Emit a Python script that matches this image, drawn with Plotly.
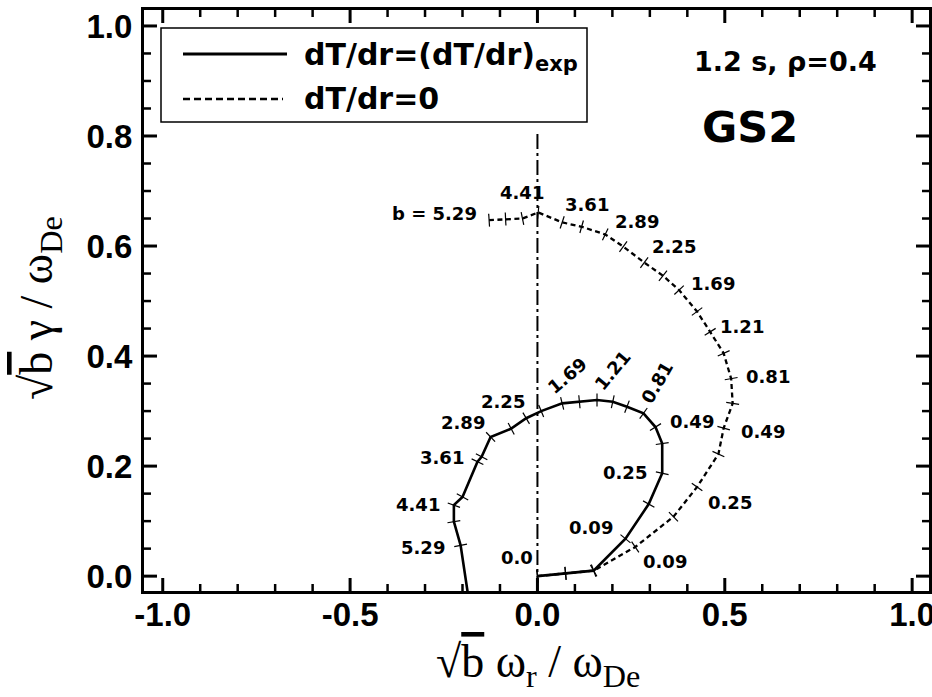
import plotly.graph_objects as go
import math

# Wavenumber parameter b = (k_theta rho_i)^2 along each curve
b_vals = [0.0, 0.01, 0.04, 0.09, 0.16, 0.25, 0.36, 0.49, 0.64, 0.81, 1.0, 1.21,
          1.44, 1.69, 1.96, 2.25, 2.56, 2.89, 3.24, 3.61, 4.0, 4.41, 4.84, 5.29, 5.76]

# dT/dr = (dT/dr)_exp : sqrt(b) w_r / w_De , sqrt(b) gamma / w_De
exp_x = [0.0, 0.075, 0.150, 0.235, 0.297, 0.333, 0.333, 0.315, 0.283, 0.239, 0.201, 0.159,
         0.112, 0.066, 0.010, -0.030, -0.070, -0.125, -0.149, -0.160, -0.200, -0.223,
         -0.223, -0.205, -0.181]
exp_y = [0.0, 0.005, 0.010, 0.068, 0.131, 0.187, 0.241, 0.271, 0.296, 0.308, 0.317, 0.320,
         0.317, 0.314, 0.300, 0.287, 0.268, 0.253, 0.217, 0.208, 0.144, 0.129,
         0.099, 0.056, -0.053]

# dT/dr = 0
flat_x = [0.0, 0.075, 0.150, 0.261, 0.363, 0.426, 0.483, 0.497, 0.521, 0.517, 0.497, 0.461,
          0.426, 0.378, 0.335, 0.285, 0.229, 0.181, 0.118, 0.066, 0.002, -0.040, -0.085, -0.129]
flat_y = [0.0, 0.005, 0.010, 0.053, 0.108, 0.162, 0.222, 0.269, 0.314, 0.359, 0.405, 0.444,
          0.481, 0.520, 0.546, 0.570, 0.599, 0.621, 0.635, 0.643, 0.661, 0.650, 0.649, 0.647]

# labelled b values: (index, text, x offset px, y offset px [up positive], angle)
exp_labels = [(0, "0.0", -20, 19, 0), (3, "0.09", -34, 11, 0), (5, "0.25", -37, 1, 0),
              (7, "0.49", 37, 6, 0), (9, "0.81", 30, 24, -60), (11, "1.21", 15, 30, -50),
              (13, "1.69", 5, 28, -40), (15, "2.25", -23, 17, 0), (17, "2.89", -28, 14, 0),
              (19, "3.61", -35, 4, 0), (21, "4.41", -36, 1, 0), (23, "5.29", -38, -2, 0)]
flat_labels = [(3, "0.09", 30, -15, 0), (5, "0.25", 33, -15, 0), (7, "0.49", 39, -3, 0),
               (9, "0.81", 37, 2, 0), (11, "1.21", 32, 5, 0), (13, "1.69", 34, 7, 0),
               (15, "2.25", 30, 16, 0), (17, "2.89", 32, 13, 0), (19, "3.61", 25, 18, 0),
               (21, "4.41", 0, 26, 0), (23, "b = 5.29", -55, 7, 0)]

x_ticks = [-1.0, -0.5, 0.0, 0.5, 1.0]
x_ticktext = ["-1.0", "-0.5", "0.0", "0.5", "1.0"]
y_ticks = [0.0, 0.2, 0.4, 0.6, 0.8, 1.0]
y_ticktext = ["0.0", "0.2", "0.4", "0.6", "0.8", "1.0"]
x_minor_step = 0.1
y_minor_step = 0.05

W, H = 932, 697
ML, MR, MT, MB = 144, 3, 10, 106
XR = [-1.05, 1.045]
YR = [-0.027, 1.029]
SX = (W - ML - MR) / (XR[1] - XR[0])   # px per data unit
SY = (H - MT - MB) / (YR[1] - YR[0])


def px_x(px):
    return (px - ML) / (W - ML - MR)


def px_y(py):
    return (H - MB - py) / (H - MT - MB)


def cross_marks(xs, ys, half=6.5):
    """Short segments perpendicular to the curve at every sample point."""
    mx, my = [], []
    n = len(xs)
    for i in range(n):
        a = max(i - 1, 0)
        c = min(i + 1, n - 1)
        tx = (xs[c] - xs[a]) * SX
        ty = (ys[c] - ys[a]) * SY
        norm = math.hypot(tx, ty) or 1.0
        nx, ny = -ty / norm, tx / norm
        mx += [xs[i] - nx * half / SX, xs[i] + nx * half / SX, None]
        my += [ys[i] - ny * half / SY, ys[i] + ny * half / SY, None]
    return mx, my


def steps(lo, hi, step):
    n = int(round((hi - lo) / step))
    return [round(lo + i * step, 4) for i in range(n + 1)]


def frame_ticks(xvals, yvals, length):
    """Inward tick segments on all four sides of the frame."""
    tx, ty = [], []
    dy = length / SY
    dx = length / SX
    for v in xvals:
        tx += [v, v, None, v, v, None]
        ty += [YR[0], YR[0] + dy, None, YR[1], YR[1] - dy, None]
    for v in yvals:
        tx += [XR[0], XR[0] + dx, None, XR[1], XR[1] - dx, None]
        ty += [v, v, None, v, v, None]
    return tx, ty


fig = go.Figure()

# frame ticks: major and minor, mirrored on all sides
x_minor = [v for v in steps(-1.0, 1.0, x_minor_step) if v not in x_ticks]
y_minor = [v for v in steps(0.0, 1.0, y_minor_step) if v not in y_ticks]
for xv, yv, ln, lw in ((x_ticks, y_ticks, 13, 3), (x_minor, y_minor, 7, 2.5)):
    tx, ty = frame_ticks(xv, yv, ln)
    fig.add_trace(go.Scatter(x=tx, y=ty, mode="lines", line=dict(color="black", width=lw),
                             hoverinfo="skip", showlegend=False, cliponaxis=False))

# vertical reference at zero real frequency
fig.add_trace(go.Scatter(x=[0.0, 0.0], y=[YR[0], 0.81], mode="lines",
                         line=dict(color="black", width=2, dash="15px,4px,3px,4px"),
                         hoverinfo="skip", showlegend=False))

fig.add_trace(go.Scatter(x=exp_x, y=exp_y, mode="lines", name="dT/dr=(dT/dr)exp",
                         line=dict(color="black", width=2.6), showlegend=False))
fig.add_trace(go.Scatter(x=flat_x, y=flat_y, mode="lines", name="dT/dr=0",
                         line=dict(color="black", width=2.3, dash="5px,3.5px"),
                         showlegend=False))

for xs, ys in ((exp_x, exp_y), (flat_x, flat_y)):
    mx, my = cross_marks(xs, ys)
    fig.add_trace(go.Scatter(x=mx, y=my, mode="lines", line=dict(color="black", width=1.2),
                             hoverinfo="skip", showlegend=False))

lab_font = dict(family="DejaVu Sans", size=18, color="black", weight="bold")
annotations = []
for xs, ys, labs in ((exp_x, exp_y, exp_labels), (flat_x, flat_y, flat_labels)):
    for idx, txt, dx, dy, ang in labs:
        annotations.append(dict(x=xs[idx], y=ys[idx], xref="x", yref="y", text=txt,
                                showarrow=False, xshift=dx, yshift=dy, textangle=ang,
                                font=lab_font, xanchor="center", yanchor="middle"))

# legend box drawn by hand
shapes = [
    dict(type="rect", xref="paper", yref="paper", x0=px_x(161), x1=px_x(587),
         y0=px_y(122), y1=px_y(28), line=dict(color="black", width=1.5),
         fillcolor="white", layer="above"),
    dict(type="line", xref="paper", yref="paper", x0=px_x(183), x1=px_x(287),
         y0=px_y(54), y1=px_y(54), line=dict(color="black", width=3), layer="above"),
    dict(type="line", xref="paper", yref="paper", x0=px_x(183), x1=px_x(283),
         y0=px_y(99), y1=px_y(99), line=dict(color="black", width=2.5, dash="7px,4px"),
         layer="above"),
]
leg_font = dict(family="DejaVu Sans", size=30, color="black", weight="bold")
annotations += [
    dict(x=px_x(302), y=px_y(57), xref="paper", yref="paper", xanchor="left",
         yanchor="middle", text="dT/dr=(dT/dr)<sub>exp</sub>", showarrow=False, font=leg_font),
    dict(x=px_x(302), y=px_y(98), xref="paper", yref="paper", xanchor="left",
         yanchor="middle", text="dT/dr=0", showarrow=False, font=leg_font),
    dict(x=px_x(692), y=px_y(62), xref="paper", yref="paper", xanchor="left",
         yanchor="middle", text="1.2 s, ρ=0.4", showarrow=False,
         font=dict(family="DejaVu Sans", size=27, color="black", weight="bold")),
    dict(x=px_x(700), y=px_y(127), xref="paper", yref="paper", xanchor="left",
         yanchor="middle", text="GS2", showarrow=False,
         font=dict(family="DejaVu Sans", size=43, color="black", weight="bold")),
]

annotations += [
    dict(x=px_x(538), y=px_y(665), xref="paper", yref="paper", xanchor="center",
         yanchor="middle", showarrow=False,
         font=dict(family="Liberation Serif", size=46, color="black"),
         text="√<span style='text-decoration:overline'>b</span> ω<sub>r</sub> / ω<sub>De</sub>"),
    dict(x=px_x(40), y=px_y(308), xref="paper", yref="paper", xanchor="center",
         yanchor="middle", showarrow=False, textangle=-90,
         font=dict(family="Liberation Serif", size=46, color="black"),
         text="√<span style='text-decoration:overline'>b</span> γ / ω<sub>De</sub>"),
]

tick_font = dict(family="Liberation Sans", size=33, color="black", weight="bold")
axis_common = dict(showline=True, linecolor="black", linewidth=3, mirror=True,
                   ticks="", showgrid=False, zeroline=False, tickfont=tick_font,
                   automargin=False, ticklabeloverflow="allow")

fig.update_layout(
    width=W, height=H,
    margin=dict(l=ML, r=MR, t=MT, b=MB),
    paper_bgcolor="white", plot_bgcolor="white",
    showlegend=False,
    xaxis=dict(range=XR, tickmode="array", tickvals=x_ticks, ticktext=x_ticktext,
               ticklabelstandoff=-8, **axis_common),
    yaxis=dict(range=YR, tickmode="array", tickvals=y_ticks, ticktext=y_ticktext,
               ticklabelstandoff=2, **axis_common),
    shapes=shapes,
    annotations=annotations,
)

fig.write_html("out.html")
